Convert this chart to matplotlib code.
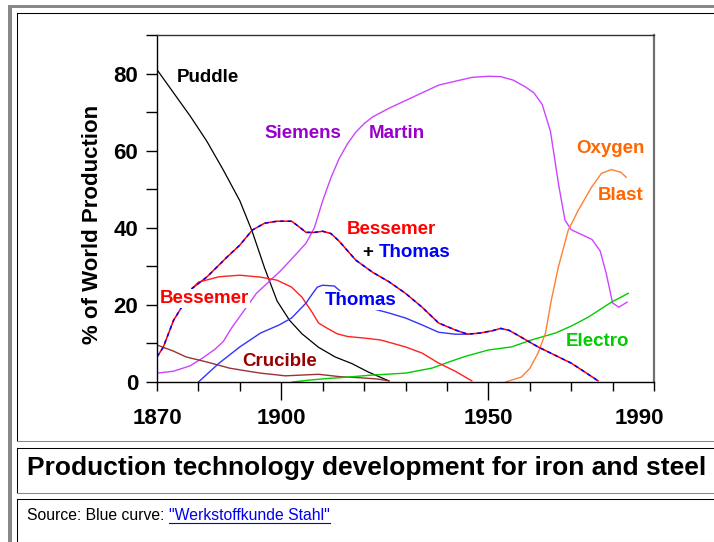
import matplotlib
matplotlib.use("Agg")
import matplotlib.pyplot as plt
from matplotlib.lines import Line2D
from matplotlib.patches import Rectangle
from matplotlib.transforms import ScaledTranslation

plt.rcParams['font.family'] = ['Liberation Sans', 'DejaVu Sans']

W, H = 714, 542

# --- data ---
puddle_years = [1870, 1872, 1875, 1878, 1882, 1886, 1890, 1893, 1896, 1899, 1902, 1905,
                1909, 1913, 1917, 1921, 1924, 1926]
puddle_vals = [81, 78, 73.5, 69, 62.5, 55, 47, 39, 29.5, 21, 16, 12.5,
               9, 6.5, 4.8, 2.6, 1.2, 0.3]

siemens_years = [1870, 1874, 1878, 1881, 1884, 1886, 1888, 1891, 1894, 1897, 1900, 1903,
                 1906, 1908, 1910, 1912, 1914, 1916, 1918, 1920, 1922, 1926, 1930, 1934,
                 1938, 1942, 1946, 1950, 1953, 1956, 1959, 1961, 1963, 1965, 1967, 1968.5,
                 1970, 1972, 1975, 1977, 1978.5, 1980, 1981.5, 1983.5]
siemens_vals = [2.3, 2.8, 4.2, 6.2, 8.5, 10.5, 14, 18.5, 23, 26, 29, 32.5,
                36, 40, 47, 53, 58, 61.8, 64.8, 67, 68.7, 71, 73, 75,
                77, 78, 79, 79.3, 79.2, 78.3, 76.5, 75, 72, 65, 51, 42,
                39.5, 38.5, 37, 34, 28, 20.5, 19.4, 20.7]

combo_years = [1870, 1871.5, 1874, 1876, 1878.5, 1882, 1887, 1890, 1893, 1896, 1899, 1902.5,
               1904, 1906, 1908, 1910, 1912, 1914, 1918, 1922, 1926, 1930, 1934, 1938,
               1942, 1945, 1948, 1951, 1953, 1955, 1957, 1962, 1966, 1970, 1973, 1976.5]
combo_vals = [6.5, 9, 16, 19.5, 24.3, 27.2, 32.5, 35.5, 39.4, 41.2, 41.7, 41.7,
              40.5, 38.8, 38.8, 39.1, 38.5, 36.5, 31.6, 28.5, 26, 23, 19.4, 15.3,
              13.5, 12.4, 12.7, 13.3, 13.9, 13.4, 12.2, 9.1, 7, 4.9, 2.8, 0.3]

bessemer_years = [1878.5, 1880, 1885, 1890, 1895, 1899, 1902.5, 1905, 1907.5, 1909, 1911,
                  1913.5, 1916, 1920, 1924, 1930, 1934, 1938, 1942, 1946]
bessemer_vals = [24.3, 25.9, 27.3, 27.7, 27.2, 26.4, 24.6, 22, 18, 15.3, 14,
                 12.5, 11.8, 11.4, 10.9, 9.1, 7.5, 4.9, 2.8, 0.3]

thomas_years = [1880, 1885, 1890, 1895, 1899.5, 1902.5, 1906, 1907.6, 1908.7, 1910, 1912.8,
                1916, 1919, 1922.5, 1926, 1930, 1934, 1938, 1942, 1945]
thomas_vals = [0, 4.9, 9.1, 12.7, 14.8, 16.6, 20.5, 23, 24.6, 25.1, 24.9,
               22, 20, 18.9, 17.9, 16.6, 14.8, 12.9, 12.4, 12.4]

crucible_years = [1870, 1874, 1877, 1882, 1887.5, 1892, 1895, 1901, 1905, 1909, 1914,
                  1919, 1923, 1926]
crucible_vals = [9.6, 8, 6.5, 5.2, 3.6, 2.8, 2.3, 1.6, 1.8, 2.0, 1.4, 1.1, 0.8, 0.3]

electro_years = [1902.7, 1906.8, 1912.3, 1914, 1922, 1930, 1936.4, 1940.5, 1944.6, 1950,
                 1955.6, 1960.4, 1966.2, 1970, 1974.1, 1979.7, 1983.8]
electro_vals = [0, 0.5, 1.0, 1.1, 1.8, 2.3, 3.6, 5.2, 6.7, 8.3,
                9.1, 10.9, 12.7, 14.5, 16.8, 20.7, 23]

oxygen_years = [1954.2, 1958, 1960, 1962, 1963.8, 1965.2, 1966.9, 1969.3, 1971.7, 1974.9,
                1977.3, 1979.7, 1982, 1983.3]
oxygen_vals = [0, 1.3, 3.5, 7.5, 12.7, 21.2, 29.8, 39.4, 44.5, 50.5,
               54.1, 55.1, 54.4, 53.1]

x_major = [1870, 1900, 1950, 1990]
x_minor = [1880, 1890, 1910, 1920, 1930, 1940, 1960, 1970, 1980]
y_major = [0, 20, 40, 60, 80]
y_minor = [10, 30, 50, 70, 90]

caption = "Production technology development for iron and steel"
source_prefix = "Source: Blue curve: "
source_link = '"Werkstoffkunde Stahl"'


fig = plt.figure(figsize=(W / 100, H / 100), dpi=100)
fig.patch.set_facecolor("white")


def fx(x):
    return x / W


def fy(y):
    return 1 - y / H


def pline(x0, y0, x1, y1, color, lw=0.75):
    fig.add_artist(Line2D([fx(x0), fx(x1)], [fy(y0), fy(y1)], color=color, lw=lw,
                          transform=fig.transFigure))


# page borders (html-table look)
fig.add_artist(Rectangle((fx(8), fy(542)), 4 / W, 537 / H, facecolor="#888888",
                         edgecolor="none", transform=fig.transFigure))
fig.add_artist(Rectangle((fx(8), fy(8)), 706 / W, 3 / H, facecolor="#888888",
                         edgecolor="none", transform=fig.transFigure))
for top, bottom in [(12.5, 440.5), (447.5, 492.5), (498.5, 541.5)]:
    pline(16.5, top, 714, top, "black")
    pline(16.5, top, 16.5, bottom, "black")
    pline(16.5, bottom, 714, bottom, "#888888")

ax = fig.add_axes([fx(157), fy(382), (654 - 157) / W, (382 - 35) / H])
ax.set_xlim(1870, 1990)
ax.set_ylim(0, 90)

ax.plot(puddle_years, puddle_vals, color="black", lw=0.9)
ax.plot(siemens_years, siemens_vals, color="#CC44FF", lw=1.0)
ax.plot(crucible_years, crucible_vals, color="#993333", lw=1.0)
ax.plot(electro_years, electro_vals, color="#00CC00", lw=1.0)
ax.plot(oxygen_years, oxygen_vals, color="#FF7F33", lw=1.0)
ax.plot(bessemer_years, bessemer_vals, color="#FF2020", lw=1.0)
ax.plot(thomas_years, thomas_vals, color="#3333FF", lw=1.0)
ax.plot(combo_years, combo_vals, color="#FF0000", lw=1.1)
ax.plot(combo_years, combo_vals, color="#0000FF", lw=1.1, dashes=(2.5, 2.5))

for s in ["left", "bottom"]:
    ax.spines[s].set_color("black")
    ax.spines[s].set_linewidth(1.0)
ax.spines["top"].set_color("#333333")
ax.spines["top"].set_linewidth(1.0)
ax.spines["right"].set_color("#707070")
ax.spines["right"].set_linewidth(1.6)

ax.set_xticks(x_major)
ax.set_xticks(x_minor, minor=True)
ax.set_yticks(y_major)
ax.set_yticks(y_minor, minor=True)
ax.tick_params(axis="y", which="both", direction="out", length=8, width=1, color="black",
               pad=5.5, labelsize=16)
ax.tick_params(axis="x", which="both", direction="out", length=6.5, width=1, color="black",
               pad=12, labelsize=16)
for lab in ax.get_xticklabels() + ax.get_yticklabels():
    lab.set_fontweight("bold")
for t in ax.xaxis.get_major_ticks():
    if t.get_loc() in (1900, 1950):
        t.tick1line.set_markersize(13)
last = ax.get_xticklabels()[-1]
last.set_transform(last.get_transform() + ScaledTranslation(-0.15, 0, fig.dpi_scale_trans))

fig.text(fx(93), fy(224), "% of World Production", rotation=90, ha="center", va="center",
         fontsize=16, fontweight="bold")

lab_kw = dict(fontsize=13.5, fontweight="bold", ha="left", va="center")
white = dict(facecolor="white", edgecolor="none", pad=0.5)
ax.text(1874.8, 79.0, "Puddle", color="black", **lab_kw)
ax.text(1896.0, 64.5, "Siemens", color="#9900CC", **lab_kw)
ax.text(1921.2, 64.5, "Martin", color="#9900CC", **lab_kw)
ax.text(1971.3, 60.6, "Oxygen", color="#FF6600", **lab_kw)
ax.text(1976.5, 48.4, "Blast", color="#FF6600", **lab_kw)
ax.text(1915.7, 39.6, "Bessemer", color="#FF0000", **lab_kw)
ax.text(1919.5, 33.7, "+", color="black", **lab_kw)
ax.text(1923.6, 33.7, "Thomas", color="#0000FF", **lab_kw)
ax.text(1910.4, 21.2, "Thomas", color="#0000FF", bbox=white, **lab_kw)
ax.text(1870.7, 21.7, "Bessemer", color="#FF0000", bbox=white, **lab_kw)
ax.text(1890.7, 5.4, "Crucible", color="#990000", **lab_kw)
ax.text(1968.6, 10.4, "Electro", color="#00CC00", **lab_kw)

fig.text(fx(27), fy(468), caption, fontsize=19, fontweight="bold", va="center")

src = fig.text(fx(27), fy(516), source_prefix, fontsize=11.3, va="center")
renderer = fig.canvas.get_renderer()
bb = src.get_window_extent(renderer)
link = fig.text(bb.x1 / W, fy(516), source_link, fontsize=11.3, va="center", color="#0000EE")
lb = link.get_window_extent(renderer)
fig.add_artist(Line2D([lb.x0 / W, lb.x1 / W], [(lb.y0 + 1) / H, (lb.y0 + 1) / H],
                      color="#0000EE", lw=0.8, transform=fig.transFigure))

fig.savefig("out.png", dpi=100)
